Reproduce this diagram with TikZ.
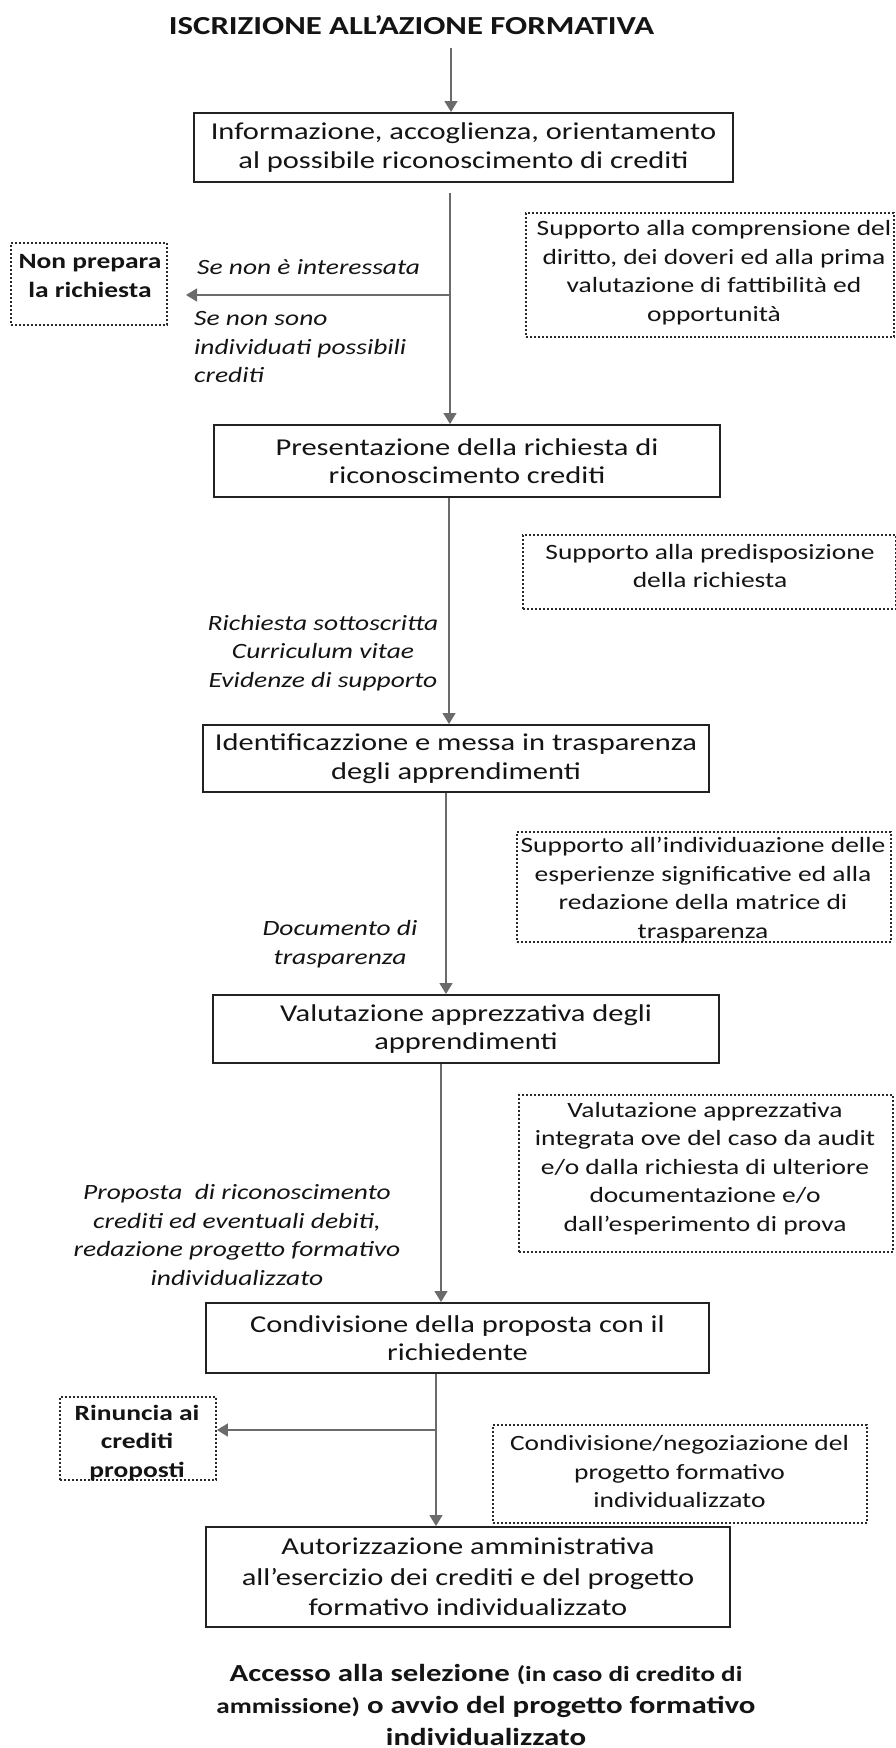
\documentclass[tikz,border=0pt]{standalone}
\usepackage{fontspec}
\setmainfont{Carlito}[FakeStretch=1.26]
\usetikzlibrary{arrows.meta}
\definecolor{boxc}{HTML}{222222}
\definecolor{arrc}{HTML}{6B6B6B}
\definecolor{dotc}{HTML}{2A2A2A}
\definecolor{txtc}{HTML}{141414}
\newcommand\mainsz{\fontsize{24.2}{28.5}\selectfont}
\newcommand\sidesz{\fontsize{21.8}{28.5}\selectfont}
\begin{document}
\begin{tikzpicture}[x=1pt,y=-1pt,
  mainbox/.style={draw=boxc, line width=2pt, inner sep=0pt, align=center, font=\mainsz, text=txtc},
  dotbox/.style={draw=dotc, line width=1.8pt, dash pattern=on 1.8pt off 2.2pt, inner sep=0pt},
  sidetext/.style={inner sep=0pt, align=center, font=\sidesz, text=txtc},
  boldtext/.style={inner sep=0pt, align=center, font=\sidesz\bfseries, text=txtc},
  lbl/.style={inner sep=0pt, font=\sidesz\itshape, text=txtc},
  arr/.style={draw=arrc, line width=1.4pt, -{Triangle[length=11pt,width=13pt]}, fill=arrc}
]
\fill[white] (0,0) rectangle (896,1748);
\useasboundingbox (0,0) rectangle (896,1748);

% title
\node[inner sep=0pt, font=\fontsize{26}{30}\selectfont\bfseries, text=txtc] (T) at (411.5,25) {ISCRIZIONE ALL’AZIONE FORMATIVA};

% main boxes
\node[mainbox, minimum width=539pt, minimum height=69pt] (B1) at (463.5,147.5) {Informazione, accoglienza, orientamento\\al possibile riconoscimento di crediti};
\node[mainbox, minimum width=506pt, minimum height=72pt] (B2) at (467,461) {Presentazione della richiesta di\\riconoscimento crediti};
\node[mainbox, minimum width=506pt, minimum height=67pt] (B3) at (456,758.5) {Identificazzione e messa in trasparenza\\degli apprendimenti};
\node[mainbox, minimum width=506pt, minimum height=68pt] (B4) at (466,1029) {Valutazione apprezzativa degli\\apprendimenti};
\node[mainbox, minimum width=503pt, minimum height=70pt] (B5) at (457.5,1338) {Condivisione della proposta con il\\richiedente};
\node[mainbox, minimum width=524pt, minimum height=100pt, font=\fontsize{24.2}{30.5}\selectfont] (B6) at (468,1577) {Autorizzazione amministrativa\\all’esercizio dei crediti e del progetto\\formativo individualizzato};

% dotted boxes
\node[dotbox, minimum width=156pt, minimum height=82pt] (D1) at (89,284) {};
\node[boldtext] (D1t) at (90,276) {Non prepara\\la richiesta};
\node[dotbox, minimum width=368pt, minimum height=124pt] (D2) at (710,275) {};
\node[sidetext] (D2t) at (714,272.5) {Supporto alla comprensione del\\diritto, dei doveri ed alla prima\\valutazione di fattibilità ed\\opportunità};
\node[dotbox, minimum width=373pt, minimum height=74pt] (D3) at (709.5,572) {};
\node[sidetext] (D3t) at (710,566) {Supporto alla predisposizione\\della richiesta};
\node[dotbox, minimum width=374pt, minimum height=110pt] (D4) at (704,887) {};
\node[sidetext] (D4t) at (703,889.5) {Supporto all’individuazione delle\\esperienze significative ed alla\\redazione della matrice di\\trasparenza};
\node[dotbox, minimum width=374pt, minimum height=157pt] (D5) at (706,1173.5) {};
\node[sidetext] (D5t) at (705,1168.5) {Valutazione apprezzativa\\integrata ove del caso da audit\\e/o dalla richiesta di ulteriore\\documentazione e/o\\dall’esperimento di prova};
\node[dotbox, minimum width=374pt, minimum height=98pt] (D6) at (680,1474) {};
\node[sidetext] (D6t) at (679.5,1471.5) {Condivisione/negoziazione del\\progetto formativo\\individualizzato};
\node[dotbox, minimum width=156pt, minimum height=83pt] (D7) at (138,1438.5) {};
\node[boldtext] (D7t) at (137,1443) {Rinuncia ai\\crediti\\proposti};

% italic labels
\node[lbl, anchor=west] (L1) at (197,267) {Se non è interessata};
\node[lbl, anchor=west, align=left] (L2) at (194,347.5) {Se non sono\\individuati possibili\\crediti};
\node[lbl, align=center] (L3) at (323,653) {Richiesta sottoscritta\\Curriculum vitae\\Evidenze di supporto};
\node[lbl, align=center] (L4) at (340,944) {Documento di\\trasparenza};
\node[lbl, align=center] (L5) at (237,1235) {Proposta\ \ di riconoscimento\\crediti ed eventuali debiti,\\redazione progetto formativo\\individualizzato};

% final text
\node[inner sep=0pt, align=center, font=\fontsize{24.5}{32}\selectfont\bfseries, text=txtc] (F) at (486,1705) {Accesso alla selezione {\fontsize{21.5}{32}\selectfont(in caso di credito di}\\{\fontsize{21.5}{32}\selectfont ammissione)} o avvio del progetto formativo\\individualizzato};

% connectors
\coordinate (x0) at (451,48);
\coordinate (x1) at (450,193);
\coordinate (x2) at (449,0);
\coordinate (x3) at (446,0);
\coordinate (x4) at (441,0);
\coordinate (x5) at (436,0);
\coordinate (j1) at (450,295);
\coordinate (t1) at (186,295);
\coordinate (j2) at (436,1430);

\draw[arr] (x0) -- (x0 |- B1.north);
\draw[arr] (x1) -- (x1 |- B2.north);
\draw[arr] (B2.south -| x2) -- (B3.north -| x2);
\draw[arr] (B3.south -| x3) -- (B4.north -| x3);
\draw[arr] (B4.south -| x4) -- (B5.north -| x4);
\draw[arr] (B5.south -| x5) -- (B6.north -| x5);
\draw[arr] (j1) -- (t1);
\draw[arr] (j2) -- (j2 -| D7.east);
\end{tikzpicture}
\end{document}
